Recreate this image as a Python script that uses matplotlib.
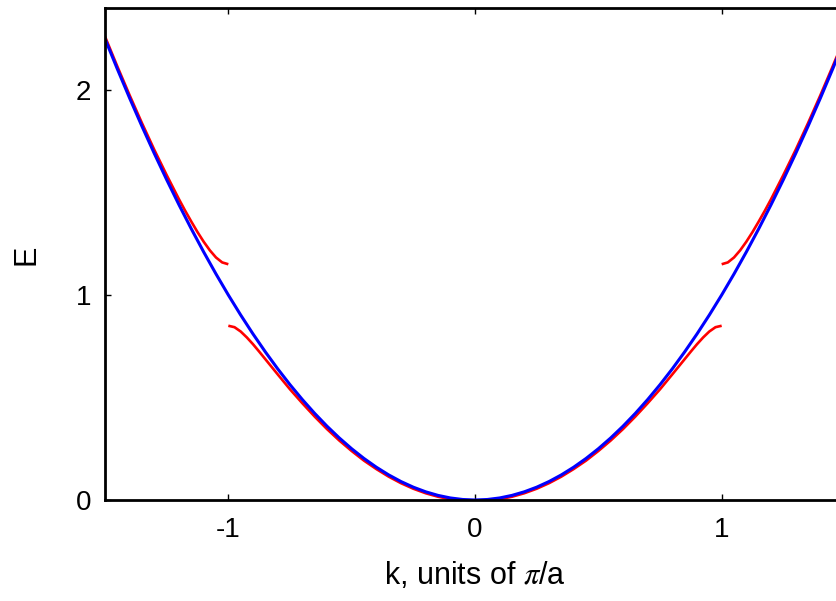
import matplotlib
matplotlib.use("Agg")
import matplotlib.pyplot as plt

plt.rcParams['font.family'] = ['Liberation Sans', 'DejaVu Sans']
plt.rcParams['mathtext.fontset'] = 'stix'

# Free-electron parabola
k_free = [-1.5, -1.45, -1.4, -1.35, -1.3, -1.25, -1.2, -1.15, -1.1, -1.05, -1.0,
          -0.95, -0.9, -0.85, -0.8, -0.75, -0.7, -0.65, -0.6, -0.55, -0.5, -0.45,
          -0.4, -0.35, -0.3, -0.25, -0.2, -0.15, -0.1, -0.05, 0.0, 0.05, 0.1, 0.15,
          0.2, 0.25, 0.3, 0.35, 0.4, 0.45, 0.5, 0.55, 0.6, 0.65, 0.7, 0.75, 0.8,
          0.85, 0.9, 0.95, 1.0, 1.05, 1.1, 1.15, 1.2, 1.25, 1.3, 1.35, 1.4, 1.45, 1.5]
E_free = [2.25, 2.1025, 1.96, 1.8225, 1.69, 1.5625, 1.44, 1.3225, 1.21, 1.1025, 1.00,
          0.9025, 0.81, 0.7225, 0.64, 0.5625, 0.49, 0.4225, 0.36, 0.3025, 0.25, 0.2025,
          0.16, 0.1225, 0.09, 0.0625, 0.04, 0.0225, 0.01, 0.0025, 0.00, 0.0025, 0.01, 0.0225,
          0.04, 0.0625, 0.09, 0.1225, 0.16, 0.2025, 0.25, 0.3025, 0.36, 0.4225, 0.49, 0.5625, 0.64,
          0.7225, 0.81, 0.9025, 1.00, 1.1025, 1.21, 1.3225, 1.44, 1.5625, 1.69, 1.8225, 1.96, 2.1025, 2.25]

# Lowest band, first zone
k_band1 = [-1.0, -0.975, -0.95, -0.925, -0.9, -0.875, -0.85, -0.825, -0.8, -0.75,
           -0.7, -0.65, -0.6, -0.55, -0.5, -0.45, -0.4, -0.35, -0.3, -0.25, -0.2,
           -0.15, -0.1, -0.05, 0.0, 0.05, 0.1, 0.15, 0.2, 0.25, 0.3, 0.35, 0.4,
           0.45, 0.5, 0.55, 0.6, 0.65, 0.7, 0.75, 0.8, 0.825, 0.85, 0.875, 0.9,
           0.925, 0.95, 0.975, 1.0]
E_band1 = [0.850, 0.843, 0.822, 0.793, 0.760, 0.724, 0.687, 0.650, 0.613, 0.540,
           0.472, 0.407, 0.346, 0.290, 0.239, 0.192, 0.151, 0.114, 0.082, 0.055, 0.033,
           0.016, 0.004, -0.003, -0.006, -0.003, 0.004, 0.016, 0.033, 0.055, 0.082, 0.114, 0.151,
           0.192, 0.239, 0.290, 0.346, 0.407, 0.472, 0.540, 0.613, 0.650, 0.687, 0.724, 0.760,
           0.793, 0.822, 0.843, 0.850]

# Second band, left and right of the zone boundary
k_band2_left = [-1.5, -1.45, -1.4, -1.35, -1.3, -1.25, -1.2, -1.175, -1.15, -1.125,
                -1.1, -1.075, -1.05, -1.025, -1.0]
E_band2_left = [2.261, 2.115, 1.974, 1.838, 1.708, 1.585, 1.467, 1.411, 1.358, 1.307,
                1.260, 1.218, 1.183, 1.159, 1.150]
k_band2_right = [1.0, 1.025, 1.05, 1.075, 1.1, 1.125, 1.15, 1.175, 1.2, 1.25, 1.3,
                 1.35, 1.4, 1.45, 1.5]
E_band2_right = [1.150, 1.159, 1.183, 1.218, 1.260, 1.307, 1.358, 1.411, 1.467, 1.585, 1.708,
                 1.838, 1.974, 2.115, 2.261]

x_ticks = [-1, 0, 1]
x_ticklabels = ['-1', '0', '1']
y_ticks = [0, 1, 2]
y_ticklabels = ['0', '1', '2']

W, H = 837, 601
fig = plt.figure(figsize=(W / 100, H / 100), dpi=100)
left, right = 105 / W, 845 / W
bottom, top = (H - 500) / H, (H - 8) / H
ax = fig.add_axes([left, bottom, right - left, top - bottom])

red = '#ff0000'
blue = '#0000ff'
ax.plot(k_band1, E_band1, color=red, lw=1.9, solid_capstyle='butt')
ax.plot(k_band2_left, E_band2_left, color=red, lw=1.9, solid_capstyle='butt')
ax.plot(k_band2_right, E_band2_right, color=red, lw=1.9, solid_capstyle='butt')
ax.plot(k_free, E_free, color=blue, lw=2.2)

ax.set_xlim(-1.5, 1.5)
ax.set_ylim(0, 2.4)
ax.set_xticks(x_ticks)
ax.set_xticklabels(x_ticklabels)
ax.set_yticks(y_ticks)
ax.set_yticklabels(y_ticklabels)
ax.tick_params(direction='in', length=4, width=1, labelsize=20, top=True, right=True)
ax.tick_params(axis='x', pad=12)
ax.tick_params(axis='y', pad=10)
for s in ax.spines.values():
    s.set_linewidth(2)

ax.set_xlabel(r'k, units of $\pi$/a', fontsize=22, va='center')
ax.xaxis.set_label_coords(0.5, (500 - 575) / 492)
ax.set_ylabel('E', fontsize=22, va='center')
ax.yaxis.set_label_coords((27 - 105) / 740, (500 - 255) / 492)

fig.savefig('out.png', dpi=100)
